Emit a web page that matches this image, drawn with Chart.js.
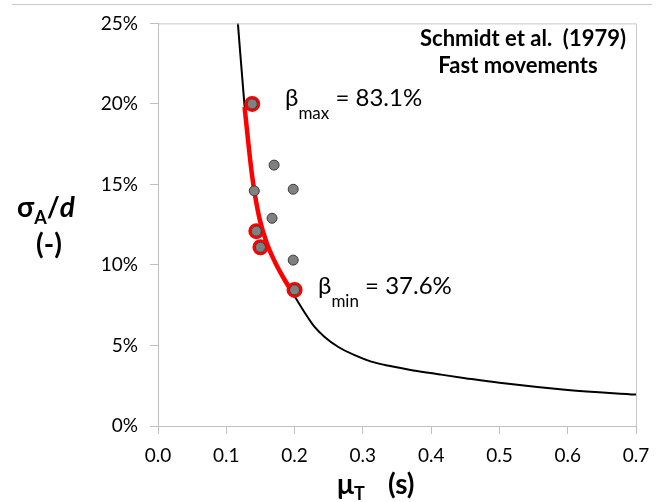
<!DOCTYPE html>
<html>
<head>
<meta charset="utf-8">
<script src="https://cdn.jsdelivr.net/npm/chart.js@4"></script>
<style>
  body { margin: 0; background: #fff; }
  #wrap { width: 660px; height: 502px; }
</style>
</head>
<body>
<div id="wrap"><canvas id="chart" width="660" height="502"></canvas></div>
<script>
// model curve (mu_T in s, sigma_A/d in %)
const curveX = [0.117, 0.1265, 0.1325, 0.137, 0.1418, 0.1491, 0.159, 0.1711, 0.1858, 0.2023, 0.2147, 0.2293, 0.244, 0.2635, 0.288, 0.3123, 0.340, 0.374, 0.413, 0.450, 0.500, 0.600, 0.700];
const curveY = [25.0, 20.0, 17.5, 15.8, 14.4, 12.8, 11.4, 10.2, 9.05, 7.9, 7.05, 6.15, 5.53, 4.92, 4.4, 4.0, 3.72, 3.45, 3.2, 2.97, 2.68, 2.24, 1.95];

// red fitted segment
const fitX = [0.1268, 0.1325, 0.137, 0.1418, 0.1491, 0.159, 0.1711, 0.1858, 0.2015];
const fitY = [19.8, 17.5, 15.8, 14.4, 12.8, 11.4, 10.2, 9.05, 8.0];

// measured points
const ptX = [0.138, 0.170, 0.141, 0.198, 0.167, 0.144, 0.150, 0.198, 0.200];
const ptY = [20.0, 16.2, 14.6, 14.7, 12.9, 12.1, 11.1, 10.3, 8.45];
const ringed = [0, 5, 6, 8];

const xTicks = [0, 0.1, 0.2, 0.3, 0.4, 0.5, 0.6, 0.7];
const yTicks = [0, 5, 10, 15, 20, 25];

const FONT = "Lato, 'Open Sans', sans-serif";

function pairs(xs, ys) {
  return xs.map((x, i) => ({x: x, y: ys[i]}));
}

const textPlugin = {
  id: 'texts',
  afterDraw(chart) {
    const ctx = chart.ctx;
    const a = chart.chartArea;
    ctx.save();
    // outer frame line and plot border
    ctx.strokeStyle = '#c8c8c8';
    ctx.lineWidth = 1;
    ctx.beginPath();
    ctx.moveTo(12, 4.5); ctx.lineTo(652, 4.5);
    ctx.moveTo(a.left, a.top + 0.5); ctx.lineTo(a.right + 0.5, a.top + 0.5);
    ctx.lineTo(a.right + 0.5, a.bottom);
    ctx.stroke();

    ctx.fillStyle = '#000';
    ctx.textBaseline = 'alphabetic';

    // header
    ctx.font = "bold 22px " + FONT;
    ctx.textAlign = 'center';
    ctx.fillText('Schmidt et al.  (1979)', 523, 46);
    ctx.fillText('Fast movements', 518, 73);

    // beta labels
    ctx.textAlign = 'left';
    function beta(x, y, sub, rest) {
      ctx.font = "24px " + FONT;
      ctx.fillText('\u03B2', x, y);
      const bw = ctx.measureText('\u03B2').width;
      ctx.font = "17px " + FONT;
      ctx.fillText(sub, x + bw, y + 13);
      const sw = ctx.measureText(sub).width;
      ctx.font = "24px " + FONT;
      ctx.fillText(' = ' + rest, x + bw + sw, y);
    }
    beta(285, 106, 'max', '83.1%');
    beta(318, 294, 'min', '37.6%');

    // y axis title
    ctx.font = "bold 28px " + FONT;
    let x = 17;
    ctx.fillText('\u03C3', x, 217);
    x += ctx.measureText('\u03C3').width;
    ctx.font = "bold 18px " + FONT;
    ctx.fillText('A', x, 224);
    x += ctx.measureText('A').width;
    ctx.font = "bold 28px " + FONT;
    ctx.fillText('/', x, 217);
    x += ctx.measureText('/').width;
    ctx.font = "italic bold 28px " + FONT;
    ctx.fillText('d', x, 217);
    ctx.font = "bold 28px " + FONT;
    ctx.textAlign = 'center';
    ctx.fillText('(-)', 49, 254);

    // x axis title
    ctx.textAlign = 'left';
    x = 337;
    ctx.font = "bold 28px " + FONT;
    ctx.fillText('\u03BC', x, 494);
    x += ctx.measureText('\u03BC').width;
    ctx.font = "bold 18px " + FONT;
    ctx.fillText('T', x, 500);
    ctx.font = "bold 28px " + FONT;
    ctx.fillText('(s)', 388, 494);
    ctx.restore();
  }
};

new Chart("chart", {
  type: "scatter",
  data: {
    datasets: [
      {
        data: pairs(ptX, ptY),
        pointRadius: 5,
        pointBackgroundColor: '#808080',
        pointBorderColor: '#3a3a3a',
        pointBorderWidth: 1,
        order: 0
      },
      {
        data: pairs(ringed.map(i => ptX[i]), ringed.map(i => ptY[i])),
        pointRadius: 6.5,
        pointBackgroundColor: 'rgba(0,0,0,0)',
        pointBorderColor: '#ff0000',
        pointBorderWidth: 3,
        order: 1
      },
      {
        data: pairs(fitX, fitY),
        showLine: true,
        borderColor: '#ff0000',
        borderWidth: 4.5,
        pointRadius: 0,
        cubicInterpolationMode: 'monotone',
        order: 2
      },
      {
        data: pairs(curveX, curveY),
        showLine: true,
        borderColor: '#000000',
        borderWidth: 2,
        pointRadius: 0,
        cubicInterpolationMode: 'monotone',
        clip: false,
        order: 3
      }
    ]
  },
  options: {
    responsive: false,
    animation: false,
    layout: {padding: {top: 17, right: 24, left: 0, bottom: 0}},
    plugins: {
      legend: {display: false},
      tooltip: {enabled: false}
    },
    scales: {
      x: {
        type: 'linear',
        min: 0,
        max: 0.7,
        afterBuildTicks: s => { s.ticks = xTicks.map(v => ({value: v})); },
        afterFit: s => { s.height = 76; },
        ticks: {
          callback: v => v.toFixed(1),
          color: '#000',
          font: {family: FONT, size: 19},
          padding: 10,
          maxRotation: 0
        },
        grid: {drawOnChartArea: false, tickLength: 8, color: '#bfbfbf'},
        border: {color: '#bfbfbf'}
      },
      y: {
        min: 0,
        max: 25,
        afterBuildTicks: s => { s.ticks = yTicks.map(v => ({value: v})); },
        afterFit: s => { s.width = 158; },
        ticks: {
          callback: v => v + '%',
          color: '#000',
          font: {family: FONT, size: 19},
          padding: 12
        },
        grid: {drawOnChartArea: false, tickLength: 8, color: '#bfbfbf'},
        border: {color: '#bfbfbf'}
      }
    }
  },
  plugins: [textPlugin]
});
</script>
</body>
</html>
